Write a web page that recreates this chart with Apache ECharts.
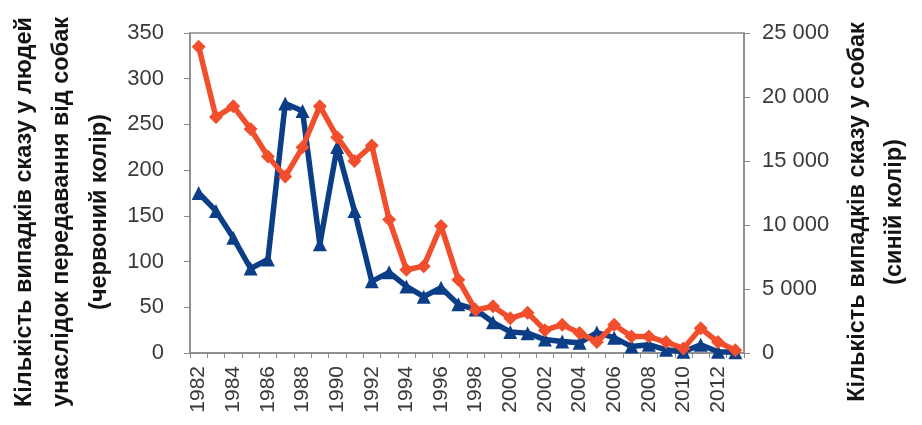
<!DOCTYPE html>
<html><head><meta charset="utf-8">
<script src="https://cdn.jsdelivr.net/npm/echarts@6/dist/echarts.min.js"></script>
<style>html,body{margin:0;padding:0;background:#fff}#c{width:922px;height:425px}</style>
</head><body><div id="c"></div>
<script>
const years = ['1982','1983','1984','1985','1986','1987','1988','1989','1990','1991','1992','1993','1994','1995','1996','1997','1998','1999','2000','2001','2002','2003','2004','2005','2006','2007','2008','2009','2010','2011','2012','2013'];
const humanCases = [335,258,270,245,215,193,225,270,236,210,227,146,91,95,139,80,47,51,38,44,25,31,22,12,31,18,18,12,5,27,12,3];
const dogCases = [12500,11100,9000,6600,7300,19500,18900,8500,16100,11100,5600,6300,5200,4400,5100,3800,3400,2400,1650,1550,1050,900,800,1600,1200,500,650,250,100,650,100,50];
const leftTicks = [0,50,100,150,200,250,300,350];
const rightTicks = [0,5000,10000,15000,20000,25000];
const leftTitle = ['Кількість випадків сказу у людей','унаслідок передавання від собак','(червоний колір)'];
const rightTitle = ['Кількість випадків сказу у собак','(синій колір)'];

const chart = echarts.init(document.getElementById('c'));
const titleFont = 'bold 23.5px "Liberation Sans Narrow", "Arial Narrow", "Liberation Sans", sans-serif';
function vtext(x, txt){
  return {type:'text', x:x, y:212, rotation:Math.PI/2,
    style:{text:txt, font:titleFont, fill:'#141414', textAlign:'center', textVerticalAlign:'middle'}};
}
const lblFont = '"Liberation Sans", Arial, sans-serif';
chart.setOption({
  animation:false,
  grid:{left:190,right:178,top:33,bottom:72,show:true,borderColor:'#8a8a8a',borderWidth:1.5},
  xAxis:{type:'category',data:years,boundaryGap:true,
    axisLine:{lineStyle:{color:'#8a8a8a',width:1.5}},
    axisTick:{show:true,interval:0,length:5,lineStyle:{color:'#8a8a8a'}},
    axisLabel:{interval:1,rotate:90,color:'#3a3a3a',fontSize:21,fontFamily:lblFont,margin:13}},
  yAxis:[
    {type:'value',min:0,max:350,interval:50,position:'left',
     splitLine:{show:false},
     axisLine:{show:true,lineStyle:{color:'#8a8a8a',width:1.5}},
     axisTick:{show:true,length:6,lineStyle:{color:'#8a8a8a'}},
     axisLabel:{color:'#3a3a3a',fontSize:22,fontFamily:lblFont,margin:26,
       formatter:v=>leftTicks.includes(v)?String(v):''}},
    {type:'value',min:0,max:25000,interval:5000,position:'right',
     splitLine:{show:false},
     axisLine:{show:true,lineStyle:{color:'#8a8a8a',width:1.5}},
     axisTick:{show:true,length:6,lineStyle:{color:'#8a8a8a'}},
     axisLabel:{color:'#3a3a3a',fontSize:22,fontFamily:lblFont,margin:18,
       formatter:v=>rightTicks.includes(v)?String(v).replace(/\B(?=(\d{3})+(?!\d))/g,' '):''}}
  ],
  series:[
    {type:'line',name:'dogs',yAxisIndex:1,data:dogCases,symbol:'triangle',symbolSize:14,showAllSymbol:true,
     lineStyle:{color:'#0c3d87',width:5.5},itemStyle:{color:'#0c3d87'},z:2},
    {type:'line',name:'humans',yAxisIndex:0,data:humanCases,symbol:'diamond',symbolSize:14,showAllSymbol:true,
     lineStyle:{color:'#f04e2c',width:5.5},itemStyle:{color:'#f04e2c'},z:3}
  ],
  graphic:[vtext(25,leftTitle[0]),vtext(62,leftTitle[1]),vtext(100,leftTitle[2]),
           vtext(858,rightTitle[0]),vtext(895,rightTitle[1])]
});
</script></body></html>
